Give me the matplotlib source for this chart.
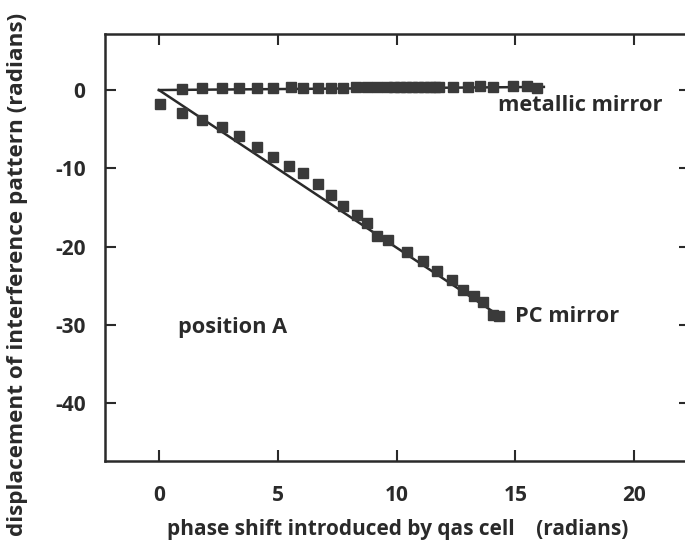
import matplotlib
matplotlib.use("Agg")
import matplotlib.pyplot as plt

# Data
metal_x = [0.95, 1.8, 2.64, 3.37, 4.11, 4.8, 5.55, 6.06, 6.7, 7.23, 7.75, 8.29, 8.74,
           9.16, 9.58, 9.9, 10.15, 10.4, 10.65, 10.9, 11.15, 11.4, 11.6, 11.8,
           12.38, 13.0, 13.5, 14.06, 14.9, 15.5, 15.9]
metal_y = [0.1, 0.2, 0.2, 0.3, 0.3, 0.3, 0.4, 0.3, 0.3, 0.3, 0.3, 0.4, 0.4,
           0.4, 0.4, 0.4, 0.4, 0.4, 0.4, 0.4, 0.4, 0.4, 0.4, 0.4,
           0.4, 0.4, 0.5, 0.4, 0.5, 0.5, 0.2]
pc_x = [0.04, 0.95, 1.82, 2.64, 3.38, 4.11, 4.81, 5.49, 6.08, 6.68, 7.24, 7.76, 8.32,
        8.74, 9.19, 9.66, 10.43, 11.1, 11.72, 12.32, 12.8, 13.24, 13.62, 14.07, 14.3]
pc_y = [-1.8, -2.9, -3.83, -4.77, -5.84, -7.24, -8.52, -9.71, -10.65, -12.0, -13.46,
        -14.78, -15.97, -17.04, -18.7, -19.17, -20.66, -21.85, -23.13, -24.28, -25.56,
        -26.33, -27.05, -28.75, -28.9]
metal_fit_x = [0, 16.2]
metal_fit_y = [0, 0.4]
pc_fit_x = [0, 14.4]
pc_fit_y = [0, -29.0]

x_ticks = [0, 5, 10, 15, 20]
y_ticks = [0, -10, -20, -30, -40]

ink = "#2a2a2a"
plt.rcParams['font.family'] = ['Open Sans', 'DejaVu Sans']

fig = plt.figure(figsize=(6.85, 5.45), dpi=100)
ax = fig.add_axes([105/685, (545-461)/545, (690-105)/685, (461-34)/545])

ax.plot(metal_fit_x, metal_fit_y, color=ink, lw=1.8)
ax.plot(pc_fit_x, pc_fit_y, color=ink, lw=1.8)
ax.plot(metal_x, metal_y, 's', color="#3a3a3a", ms=6.5, mec="#3a3a3a")
ax.plot(pc_x, pc_y, 's', color="#3a3a3a", ms=6.5, mec="#3a3a3a")

ax.set_xlim(-2.27, 22.35)
ax.set_ylim(-47.4, 7.16)
ax.set_xticks(x_ticks)
ax.set_yticks(y_ticks)
ax.set_xticklabels([str(v) for v in x_ticks])
ax.set_yticklabels([str(v) for v in y_ticks])
ax.tick_params(direction='in', length=8, width=1.5, color=ink, labelsize=15,
               labelcolor=ink, top=True, right=True)
ax.tick_params(axis='x', pad=17)
ax.tick_params(axis='y', pad=14)
for lab in ax.get_xticklabels() + ax.get_yticklabels():
    lab.set_fontweight('bold')
for s in ax.spines.values():
    s.set_color(ink)
    s.set_linewidth(1.8)

ax.set_xlabel("phase shift introduced by qas cell    (radians)", fontsize=15,
              fontweight='bold', color=ink, labelpad=10)
ax.set_ylabel("displacement of interference pattern (radians)", fontsize=16.2,
              fontweight='bold', color=ink)
ax.yaxis.set_label_coords(-0.131, 0.438)

ax.text(14.25, -2.0, "metallic mirror", fontsize=15.7, fontweight='bold', color=ink,
        ha='left', va='center')
ax.text(15.0, -29.0, "PC mirror", fontsize=15.7, fontweight='bold', color=ink,
        ha='left', va='center')
ax.text(0.8, -30.3, "position A", fontsize=15.7, fontweight='bold', color=ink,
        ha='left', va='center')

fig.savefig("out.png", dpi=100)
